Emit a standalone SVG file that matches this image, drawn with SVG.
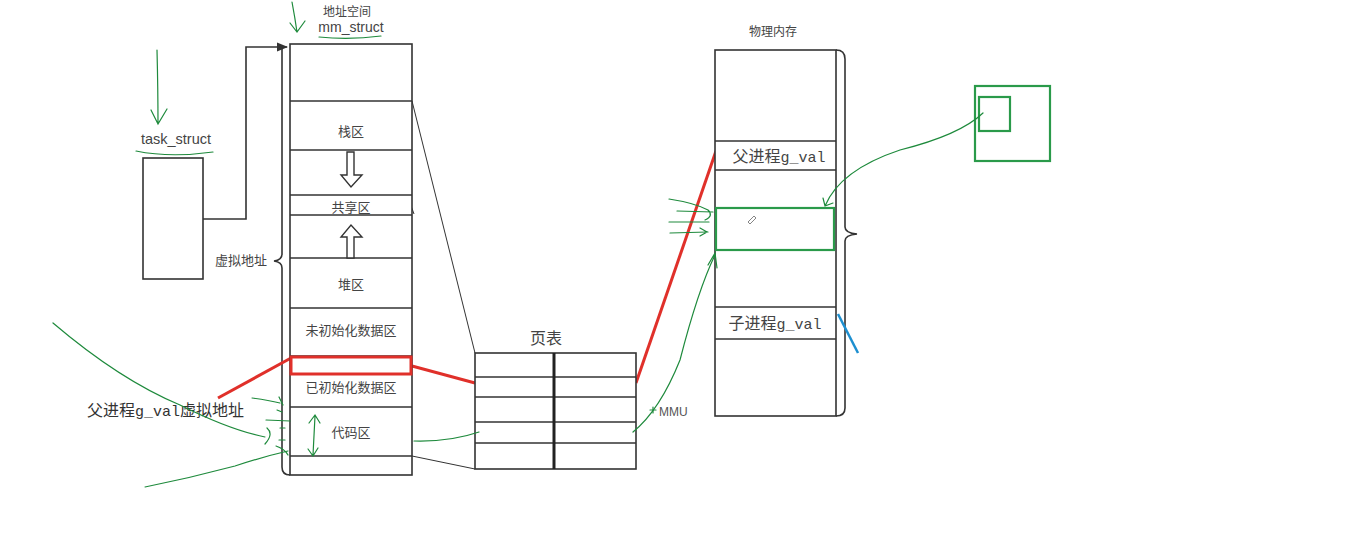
<svg xmlns="http://www.w3.org/2000/svg" width="1353" height="534" viewBox="0 0 1353 534">
<defs>
<style>
.box{fill:#fff;stroke:#333;stroke-width:1.6}
.ln{stroke:#333;stroke-width:1.6;fill:none}
.thin{stroke:#333;stroke-width:1;fill:none}
.red{stroke:#e0302a;stroke-width:3;fill:none}
.grn{stroke:#1e8a3c;stroke-width:1.2;fill:none;stroke-linecap:round}
.gbox{fill:none;stroke:#2a9a4a;stroke-width:2.2}
.cn{font-family:"Noto Sans CJK SC","Noto Sans",sans-serif;fill:#444;text-anchor:middle}
.lat{font-family:"Liberation Sans","Noto Sans",sans-serif;fill:#444;text-anchor:middle}
.mono{font-family:"Liberation Mono","Noto Sans CJK SC",monospace}
</style>
<marker id="ah" viewBox="0 0 10 10" refX="9" refY="5" markerWidth="7" markerHeight="7" orient="auto"><path d="M0,1 L10,5 L0,9 z" fill="#333"/></marker>
</defs>
<rect width="1353" height="534" fill="#fff"/>

<g id="connectors">
<polyline class="ln" points="203,219 246,219 246,47 287,47" marker-end="url(#ah)"/>
<path class="ln" d="M290,475 Q282,475 282,467 L282,268 Q282,262 274,261 Q282,260 282,254 L282,47"/>
<line class="thin" x1="412" y1="101" x2="475" y2="353"/>
<line class="thin" x1="412" y1="456" x2="475" y2="469"/>
<line class="thin" x1="410" y1="203" x2="414" y2="214"/>
<line class="red" x1="218" y1="398" x2="291" y2="358"/>
<line class="red" x1="412" y1="366" x2="475" y2="383"/>
<line class="red" x1="636" y1="383" x2="716" y2="151"/>
<path class="ln" d="M836,50 Q845,50 845,59 L845,227 Q845,233 857,234 Q845,235 845,241 L845,408 Q845,416 836,416"/>
<line x1="838" y1="314" x2="858" y2="353" stroke="#1d8fd0" stroke-width="2.5"/>
</g>

<g id="task_struct">
<rect class="box" x="143" y="158" width="60" height="121"/>
<text class="lat" x="176" y="144" font-size="14.5">task_struct</text>
</g>

<g id="mm_struct">
<rect class="box" x="290" y="44" width="122" height="431"/>
<g class="ln">
<line x1="290" y1="101" x2="412" y2="101"/>
<line x1="290" y1="150" x2="412" y2="150"/>
<line x1="290" y1="195" x2="412" y2="195"/>
<line x1="290" y1="215" x2="412" y2="215"/>
<line x1="290" y1="258" x2="412" y2="258"/>
<line x1="290" y1="308" x2="412" y2="308"/>
<line x1="290" y1="356" x2="412" y2="356"/>
<line x1="290" y1="407" x2="412" y2="407"/>
<line x1="290" y1="456" x2="412" y2="456"/>
</g>
<path d="M347,152 L354,152 L354,175 L362,175 L351,187 L341,175 L347,175 Z" fill="#fff" stroke="#333" stroke-width="1.4"/>
<path d="M347,258 L354,258 L354,237 L362,237 L351,225 L341,237 L347,237 Z" fill="#fff" stroke="#333" stroke-width="1.4"/>
<text class="cn" x="351" y="136" font-size="13">栈区</text>
<text class="cn" x="351" y="212" font-size="13">共享区</text>
<text class="cn" x="351" y="289" font-size="13">堆区</text>
<text class="cn" x="351" y="335" font-size="13">未初始化数据区</text>
<text class="cn" x="351" y="392" font-size="13">已初始化数据区</text>
<text class="cn" x="351" y="437" font-size="13">代码区</text>
<rect x="291" y="357" width="120" height="17" fill="none" stroke="#e0302a" stroke-width="3"/>
<text class="cn" x="347" y="16" font-size="12">地址空间</text>
<text class="lat" x="351" y="32" font-size="14">mm_struct</text>
<text class="cn" x="241" y="265" font-size="13">虚拟地址</text>
</g>

<g id="page_table">
<rect class="box" x="475" y="353" width="161" height="116"/>
<g class="ln">
<line x1="475" y1="377" x2="636" y2="377"/>
<line x1="475" y1="397" x2="636" y2="397"/>
<line x1="475" y1="422" x2="636" y2="422"/>
<line x1="475" y1="443" x2="636" y2="443"/>
</g>
<line x1="554" y1="353" x2="554" y2="469" stroke="#222" stroke-width="3"/>
<text class="cn" x="546" y="344" font-size="16">页表</text>
</g>

<g id="physical_memory">
<rect class="box" x="715" y="50" width="121" height="366"/>
<g class="ln">
<line x1="715" y1="141" x2="836" y2="141"/>
<line x1="715" y1="170" x2="836" y2="170"/>
<line x1="715" y1="307" x2="836" y2="307"/>
<line x1="715" y1="339" x2="836" y2="339"/>
</g>
<rect class="gbox" x="716" y="208" width="118" height="42"/>
<text class="cn" x="773" y="36" font-size="12">物理内存</text>
<text class="cn" x="779" y="162" font-size="16" fill="#333">父进程<tspan class="mono" font-size="15">g_val</tspan></text>
<text class="cn" x="775" y="329" font-size="16" fill="#333">子进程<tspan class="mono" font-size="15">g_val</tspan></text>
<path d="M748,222 l6,-6 l2,2 l-6,6 z" fill="none" stroke="#666" stroke-width="0.8"/>
</g>

<g id="label_parent_vaddr">
<text x="87" y="416" font-family="Noto Sans CJK SC, sans-serif" font-size="16" fill="#333">父进程<tspan class="mono" font-size="15">g_val</tspan>虚拟地址</text>
</g>

<g id="mmu_label">
<text x="659" y="416" font-family="Liberation Sans, sans-serif" font-size="12" fill="#555">MMU</text>
</g>

<g id="green_squares">
<rect class="gbox" x="975" y="86" width="75" height="75"/>
<rect class="gbox" x="979" y="97" width="31" height="34"/>
</g>

<g id="annotations">
<path class="grn" d="M292,2 Q295,18 297,32 M290,23 L297,32 L305,21"/>
<path class="grn" d="M319,37 Q350,40 381,36"/>
<path class="grn" d="M157,50 Q158,90 158,124 M151,110 L158,124 L167,109"/>
<path class="grn" d="M136,151 Q170,158 213,152"/>
<path class="grn" d="M53,323 Q120,380 180,405 Q230,430 265,437 M267,428 Q274,434 265,444"/>
<path class="grn" d="M145,487 Q190,478 235,466 Q262,457 288,451 M276,446 Q285,449 288,455"/>
<path class="grn" d="M252,398 Q268,400 280,403 M279,397 L283,405 M277,410 L282,412 M266,420 L290,421 M280,428 L285,428 M279,440 L285,440"/>
<path class="grn" d="M315,416 L313,455 M309,423 L315,415 L320,423 M308,449 L313,456 L318,448"/>
<path class="grn" d="M414,441 Q450,442 479,432"/>
<path class="grn" d="M633,432 Q660,410 680,360 Q698,290 715,255 M708,265 L715,253 L717,268"/>
<path class="grn" d="M650,410 L656,410 M653,407 L653,413"/>
<path class="grn" d="M669,199 Q695,203 708,210 Q714,216 705,220 M677,211 L713,212 M669,222 L709,222 M670,233 L708,232 M700,228 L707,232 L700,236"/>
<path class="grn" d="M983,113 Q960,135 900,150 Q840,170 825,206 M823,198 L825,206 L833,203"/>
</g>
</svg>
